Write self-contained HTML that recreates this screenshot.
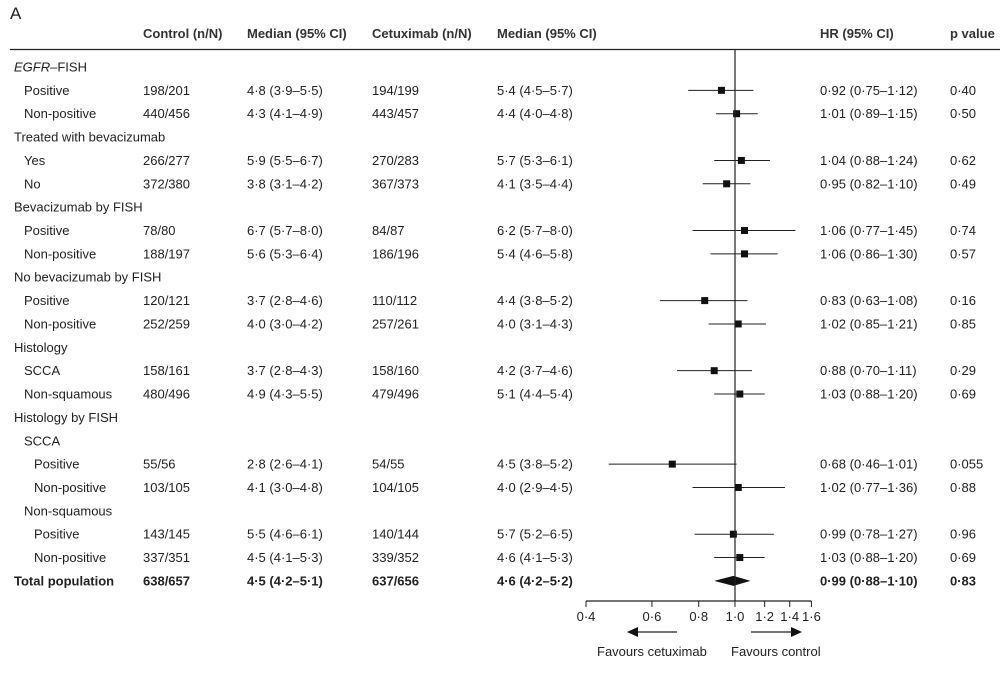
<!DOCTYPE html>
<html><head><meta charset="utf-8"><style>
body{margin:0;background:#fff;}
svg text{font-family:"Liberation Sans",sans-serif;font-size:13px;fill:#222;}
.h{font-weight:bold;fill:#333;}
.b{font-weight:bold;}
</style></head><body>
<svg id="c" width="1002" height="680">
<text x="10" y="19" style="font-size:17px">A</text>
<line x1="10" y1="49.5" x2="1000" y2="49.5" stroke="#222" stroke-width="1.2"/>
<g>
<text class="h" x="143" y="38">Control (n/N)</text>
<text class="h" x="247" y="38">Median (95% CI)</text>
<text class="h" x="372" y="38">Cetuximab (n/N)</text>
<text class="h" x="497" y="38">Median (95% CI)</text>
<text class="h" x="820" y="38">HR (95% CI)</text>
<text class="h" x="950" y="38">p value</text>
</g>
<g id="rows"></g><g id="marks"></g><g id="axis"></g>
</svg>
<script>
const labels=["EGFR|–FISH","Positive","Non-positive","Treated with bevacizumab","Yes","No","Bevacizumab by FISH","Positive","Non-positive","No bevacizumab by FISH","Positive","Non-positive","Histology","SCCA","Non-squamous","Histology by FISH","SCCA","Positive","Non-positive","Non-squamous","Positive","Non-positive","Total population"];
const indents=[0,1,1,0,1,1,0,1,1,0,1,1,0,1,1,0,1,2,2,1,2,2,0];
const control=["","198/201","440/456","","266/277","372/380","","78/80","188/197","","120/121","252/259","","158/161","480/496","","","55/56","103/105","","143/145","337/351","638/657"];
const medC=["","4·8 (3·9–5·5)","4·3 (4·1–4·9)","","5·9 (5·5–6·7)","3·8 (3·1–4·2)","","6·7 (5·7–8·0)","5·6 (5·3–6·4)","","3·7 (2·8–4·6)","4·0 (3·0–4·2)","","3·7 (2·8–4·3)","4·9 (4·3–5·5)","","","2·8 (2·6–4·1)","4·1 (3·0–4·8)","","5·5 (4·6–6·1)","4·5 (4·1–5·3)","4·5 (4·2–5·1)"];
const cetux=["","194/199","443/457","","270/283","367/373","","84/87","186/196","","110/112","257/261","","158/160","479/496","","","54/55","104/105","","140/144","339/352","637/656"];
const medX=["","5·4 (4·5–5·7)","4·4 (4·0–4·8)","","5·7 (5·3–6·1)","4·1 (3·5–4·4)","","6·2 (5·7–8·0)","5·4 (4·6–5·8)","","4·4 (3·8–5·2)","4·0 (3·1–4·3)","","4·2 (3·7–4·6)","5·1 (4·4–5·4)","","","4·5 (3·8–5·2)","4·0 (2·9–4·5)","","5·7 (5·2–6·5)","4·6 (4·1–5·3)","4·6 (4·2–5·2)"];
const hr=[null,0.92,1.01,null,1.04,0.95,null,1.06,1.06,null,0.83,1.02,null,0.88,1.03,null,null,0.68,1.02,null,0.99,1.03,0.99];
const lo=[null,0.75,0.89,null,0.88,0.82,null,0.77,0.86,null,0.63,0.85,null,0.70,0.88,null,null,0.46,0.77,null,0.78,0.88,0.88];
const hi=[null,1.12,1.15,null,1.24,1.10,null,1.45,1.30,null,1.08,1.21,null,1.11,1.20,null,null,1.01,1.36,null,1.27,1.20,1.10];
const pvals=["","0·40","0·50","","0·62","0·49","","0·74","0·57","","0·16","0·85","","0·29","0·69","","","0·055","0·88","","0·96","0·69","0·83"];
const ticks=[0.4,0.6,0.8,1.0,1.2,1.4,1.6];
const tickLabels=["0·4","0·6","0·8","1·0","1·2","1·4","1·6"];
const NS="http://www.w3.org/2000/svg";
const X=v=>735+162.6*Math.log(v);
const Y=i=>67+i*23.36;
const fmt=v=>v.toFixed(2).replace('.','·');
function mk(t,a,p){const e=document.createElementNS(NS,t);for(const k in a)e.setAttribute(k,a[k]);p.appendChild(e);return e;}
const rows=document.getElementById('rows'),marks=document.getElementById('marks'),axis=document.getElementById('axis');
labels.forEach((l,i)=>{
  const g=mk('g',{},rows);
  
  
  const y=Y(i)+4.5, bold=i===labels.length-1?'b':'';
  const t=mk('text',{x:14+indents[i]*10,y:y,class:bold},g);
  if(l.includes('|')){const [a,b]=l.split('|');const s1=mk('tspan',{'font-style':'italic'},t);s1.textContent=a;const s2=mk('tspan',{},t);s2.textContent=b;}
  else t.textContent=l;
  [[143,control[i]],[247,medC[i]],[372,cetux[i]],[497,medX[i]],[950,pvals[i]]].forEach(([x,s])=>{if(s){const e=mk('text',{x:x,y:y,class:bold},g);e.textContent=s;}});
  if(hr[i]!=null){
    const e=mk('text',{x:820,y:y,class:bold},g);e.textContent=fmt(hr[i])+' ('+fmt(lo[i])+'–'+fmt(hi[i])+')';
    if(i===labels.length-1){
      const d=mk('polygon',{points:`${X(lo[i])},${Y(i)} ${X(hr[i])},${Y(i)-5} ${X(hi[i])},${Y(i)} ${X(hr[i])},${Y(i)+5}`,fill:'#111'},marks);
      
      
    }else{
      const ln=mk('line',{x1:X(lo[i]),x2:X(hi[i]),y1:Y(i),y2:Y(i),stroke:'#222','stroke-width':1},marks);
      
      
      const r=mk('rect',{x:X(hr[i])-3.5,y:Y(i)-3.5,width:7,height:7,fill:'#111'},marks);
      
      
    }
  }
});
const ref=mk('line',{x1:X(1),x2:X(1),y1:50,y2:601,stroke:'#222','stroke-width':1.2},axis);


const ax=mk('line',{x1:X(0.4),x2:X(1.6),y1:601,y2:601,stroke:'#222','stroke-width':1.2},axis);


ticks.forEach((v,k)=>{
  const tk=mk('line',{x1:X(v),x2:X(v),y1:601,y2:607,stroke:'#222'},axis);
  
  
  const tl=mk('text',{x:X(v),y:621,'text-anchor':'middle'},axis);tl.textContent=tickLabels[k];
  
  
});
</script>
<svg style="position:absolute;left:0;top:0" width="1002" height="680">
<g>
<line x1="677" y1="632" x2="636" y2="632" stroke="#222" stroke-width="1.2"/>
<polygon points="627,632 638,627 638,637" fill="#111"/>
<text x="597" y="656" style="font-family:'Liberation Sans',sans-serif;font-size:13px;fill:#222">Favours cetuximab</text>
</g>
<g>
<line x1="751" y1="632" x2="793" y2="632" stroke="#222" stroke-width="1.2"/>
<polygon points="802,632 791,627 791,637" fill="#111"/>
<text x="731" y="656" style="font-family:'Liberation Sans',sans-serif;font-size:13px;fill:#222">Favours control</text>
</g>
</svg>
</body></html>
